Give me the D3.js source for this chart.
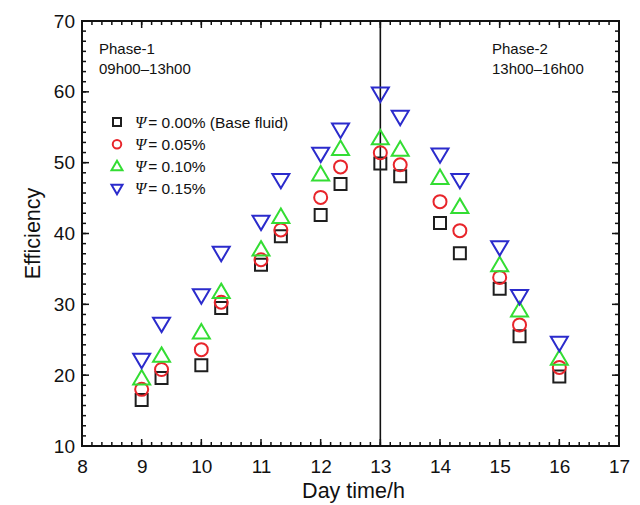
<!DOCTYPE html>
<html>
<head>
<meta charset="utf-8">
<script src="https://cdn.jsdelivr.net/npm/d3@7"></script>
<style>
  html, body { margin: 0; padding: 0; background: #fff; }
  svg { display: block; font-family: "Liberation Sans", Arial, sans-serif; }
</style>
</head>
<body>
<svg id="chart" width="640" height="505"></svg>
<script>
// Measurement times (hours of the day)
const hours = [9, 9.333, 10, 10.333, 11, 11.333, 12, 12.333, 13, 13.333, 14, 14.333, 15, 15.333, 16];

// Efficiency for each nanofluid concentration
const eff000 = [16.5, 19.6, 21.4, 29.5, 35.6, 39.6, 42.6, 47.0, 49.9, 48.1, 41.5, 37.2, 32.2, 25.5, 19.8];
const eff005 = [18.0, 20.8, 23.6, 30.3, 36.3, 40.5, 45.1, 49.4, 51.4, 49.7, 44.5, 40.4, 33.8, 27.1, 21.1];
const eff010 = [19.5, 22.7, 26.0, 31.7, 37.7, 42.3, 48.3, 51.9, 53.4, 51.8, 47.8, 43.7, 35.5, 29.1, 22.3];
const eff015 = [22.2, 27.3, 31.3, 37.3, 41.7, 47.6, 51.3, 54.7, 59.8, 56.5, 51.2, 47.6, 38.1, 31.2, 24.6];

const seriesNames = ["= 0.00% (Base fluid)", "= 0.05%", "= 0.10%", "= 0.15%"];
const seriesValues = [eff000, eff005, eff010, eff015];
const seriesShapes = ["square", "circle", "up", "down"];
const seriesColors = ["#1e1e1e", "#e8252b", "#33dd33", "#2b2bcc"];

const xTicks = [8, 9, 10, 11, 12, 13, 14, 15, 16, 17];
const yTicks = [10, 20, 30, 40, 50, 60, 70];

const svg = d3.select("#chart");
const L = 82, R = 619, T = 21, B = 446;

const x = d3.scaleLinear().domain([8, 17]).range([L, R]);
const y = d3.scaleLinear().domain([10, 70]).range([B, T]);

// Marker path generator
function markerPath(shape, s) {
  if (shape === "square") {
    return `M${-s/2},${-s/2}h${s}v${s}h${-s}Z`;
  } else if (shape === "circle") {
    const r = s / 2;
    return `M${r},0A${r},${r} 0 1,1 ${-r},0A${r},${r} 0 1,1 ${r},0Z`;
  } else if (shape === "up") {
    const h = s * 0.85;
    return `M0,${-h*0.6}L${s/2},${h*0.4}L${-s/2},${h*0.4}Z`;
  } else {
    const h = s * 0.85;
    return `M0,${h*0.6}L${s/2},${-h*0.4}L${-s/2},${-h*0.4}Z`;
  }
}
const markerSize = { square: 12, circle: 13, up: 17, down: 17 };
const legendSize = { square: 8, circle: 8.5, up: 11, down: 11 };

// Minor tick values
const xMinor = d3.range(8, 17.0001, 1/6);
const yMinor = d3.range(10, 70.0001, 10/7);

const axisG = svg.append("g");

// Inward ticks on all four sides
function drawTicks(vals, len) {
  vals.forEach(v => {
    const px = x(v);
    axisG.append("line").attr("x1", px).attr("x2", px).attr("y1", B).attr("y2", B - len)
      .attr("stroke", "#111").attr("stroke-width", 1.5);
    axisG.append("line").attr("x1", px).attr("x2", px).attr("y1", T).attr("y2", T + len)
      .attr("stroke", "#111").attr("stroke-width", 1.5);
  });
}
function drawYTicks(vals, len) {
  vals.forEach(v => {
    const py = y(v);
    axisG.append("line").attr("x1", L).attr("x2", L + len).attr("y1", py).attr("y2", py)
      .attr("stroke", "#111").attr("stroke-width", 1.5);
    axisG.append("line").attr("x1", R).attr("x2", R - len).attr("y1", py).attr("y2", py)
      .attr("stroke", "#111").attr("stroke-width", 1.5);
  });
}
drawTicks(xMinor, 4);
drawTicks(xTicks, 7);
drawYTicks(yMinor, 4);
drawYTicks(yTicks, 7);

// Tick labels through d3 axes (tick lines hidden, labels only)
const xAxis = d3.axisBottom(x).tickValues(xTicks).tickSize(0).tickPadding(14).tickFormat(d3.format("d"));
svg.append("g").attr("transform", `translate(0,${B})`).call(xAxis)
  .call(g => g.select(".domain").remove())
  .selectAll("text").attr("font-size", 19).attr("fill", "#111")
  .attr("font-family", "Liberation Sans, Arial, sans-serif");

const yAxis = d3.axisLeft(y).tickValues(yTicks).tickSize(0).tickPadding(7).tickFormat(d3.format("d"));
svg.append("g").attr("transform", `translate(${L},0)`).call(yAxis)
  .call(g => g.select(".domain").remove())
  .selectAll("text").attr("font-size", 19).attr("fill", "#111")
  .attr("font-family", "Liberation Sans, Arial, sans-serif");

// Phase divider at 13h00
svg.append("line").attr("x1", x(13)).attr("x2", x(13)).attr("y1", T).attr("y2", B)
  .attr("stroke", "#111").attr("stroke-width", 1.6);

// Plot frame
svg.append("rect").attr("x", L).attr("y", T).attr("width", R - L).attr("height", B - T)
  .attr("fill", "none").attr("stroke", "#111").attr("stroke-width", 2);

// Axis titles
svg.append("text").attr("x", (L + R) / 2 + 3).attr("y", 498).attr("text-anchor", "middle")
  .attr("font-size", 21.5).attr("fill", "#111").text("Day time/h");
svg.append("text").attr("transform", `translate(40,${(T + B) / 2}) rotate(-90)`)
  .attr("text-anchor", "middle").attr("font-size", 21.5).attr("fill", "#111").text("Efficiency");

// Phase annotations
const ann = [
  { x: 99, lines: ["Phase-1", "09h00\u201313h00"] },
  { x: 492, lines: ["Phase-2", "13h00\u201316h00"] }
];
ann.forEach(a => {
  const t = svg.append("text").attr("font-size", 15).attr("fill", "#111");
  a.lines.forEach((s, i) => t.append("tspan").attr("x", a.x).attr("y", 54 + i * 20).text(s));
});

// Data markers
seriesValues.forEach((vals, si) => {
  const shape = seriesShapes[si];
  svg.append("g").selectAll("path").data(vals).join("path")
    .attr("transform", (d, i) => `translate(${x(hours[i])},${y(d)})`)
    .attr("d", markerPath(shape, markerSize[shape]))
    .attr("fill", "none").attr("stroke", seriesColors[si]).attr("stroke-width", 2);
});

// Legend
const lg = svg.append("g");
seriesNames.forEach((name, i) => {
  const ly = 122 + i * 22.2;
  const shape = seriesShapes[i];
  lg.append("path").attr("transform", `translate(117,${ly})`)
    .attr("d", markerPath(shape, legendSize[shape]))
    .attr("fill", "none").attr("stroke", seriesColors[i]).attr("stroke-width", 2);
  const t = lg.append("text").attr("x", 135).attr("y", ly + 5.5).attr("font-size", 15.5).attr("fill", "#111");
  t.append("tspan").attr("font-family", "Liberation Serif, serif").attr("font-style", "italic")
    .attr("font-size", 16).text("\u03A8");
  t.append("tspan").attr("dx", 2).text(name);
});
</script>
</body>
</html>
